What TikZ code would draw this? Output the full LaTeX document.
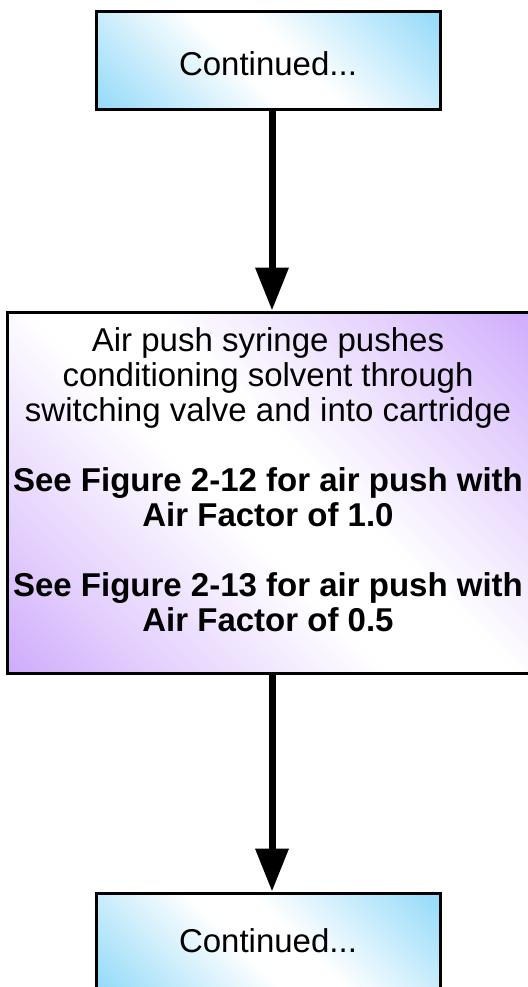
\documentclass[tikz,border=0pt]{standalone}
\usepackage{fontspec}
\setmainfont{Liberation Sans}
\usetikzlibrary{arrows.meta,shadows}
\definecolor{cblue}{RGB}{95,200,245}
\definecolor{cpurple}{RGB}{180,125,250}
\pgfdeclarehorizontalshading{blueshade}{100bp}{color(0bp)=(cblue); color(25bp)=(cblue!45!white); color(45bp)=(white); color(55bp)=(white); color(75bp)=(cblue!45!white); color(100bp)=(cblue)}
\pgfdeclarehorizontalshading{purpleshade}{100bp}{color(0bp)=(cpurple); color(25bp)=(cpurple!40!white); color(45bp)=(white); color(55bp)=(white); color(75bp)=(cpurple!40!white); color(100bp)=(cpurple)}
\tikzset{
  flowbox/.style={draw=black, line width=3pt, rectangle, inner sep=0pt,
    drop shadow={shadow xshift=-1.5pt, shadow yshift=-1.5pt, opacity=0.45}},
  contbox/.style={flowbox, shading=blueshade, shading angle=45,
    minimum width=344pt, minimum height=98pt},
  stepbox/.style={flowbox, shading=purpleshade, shading angle=45,
    minimum width=528pt, minimum height=361pt},
  flowarrow/.style={line width=7pt, -{Triangle[width=32pt,length=43pt]}},
}
\begin{document}
\begin{tikzpicture}[x=1pt,y=-1pt]
\useasboundingbox (0,0) rectangle (527,987);
\node[contbox] (top) at (268,61) {};
\node (toptext) at (268,64) {\fontsize{33}{36}\selectfont Continued...};
\node[stepbox] (mid) at (271,492.5) {};
\node[align=center, font=\fontsize{33}{35}\selectfont] (midtext) at (268,480)
  {Air push syringe pushes\\conditioning solvent through\\switching valve and into cartridge\\[35pt]
   \textbf{See Figure 2-12 for air push with}\\\textbf{Air Factor of 1.0}\\[35pt]
   \textbf{See Figure 2-13 for air push with}\\\textbf{Air Factor of 0.5}};
\node[contbox] (bot) at (268,942) {};
\node (bottext) at (268,941) {\fontsize{33}{36}\selectfont Continued...};
\draw[flowarrow] (top.south -| 272,0) -- (mid.north -| 272,0);
\draw[flowarrow] (mid.south -| 272,0) -- (bot.north -| 272,0);
\end{tikzpicture}
\end{document}
